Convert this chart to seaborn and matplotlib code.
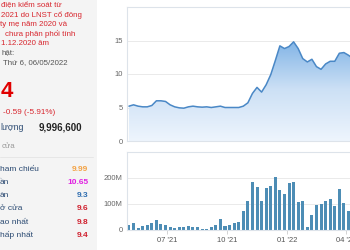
import numpy as np
import pandas as pd
import matplotlib
matplotlib.use("Agg")
import matplotlib.pyplot as plt
import matplotlib.dates as mdates
from matplotlib.colors import LinearSegmentedColormap
from matplotlib.patches import Rectangle
from matplotlib.ticker import FuncFormatter
import seaborn as sns

# ---------------- data ----------------
week_dates = pd.date_range("2021-05-04", periods=49, freq="7D")
volume_m = [18, 27, 9, 16, 18, 27, 39, 25, 18, 13,
            6, 10, 10, 16, 13, 13, 5, 5, 13, 18,
            42, 17, 21, 27, 32, 74, 113, 183, 166, 113,
            160, 170, 203, 155, 138, 181, 183, 108, 113, 10,
            57, 96, 101, 110, 121, 94, 156, 104, 75]
price_dates = pd.date_range("2021-05-04", periods=50, freq="7D")
price = [5.2, 5.4, 5.2, 5.1, 5.1, 5.3, 6.0, 6.0, 5.9, 5.4,
         5.1, 4.95, 4.9, 5.1, 5.2, 5.1, 5.05, 5.1, 5.0, 5.1,
         5.2, 5.0, 5.0, 5.0, 5.0, 5.2, 5.7, 7.1, 8.0, 7.3,
         8.4, 9.9, 12.0, 14.2, 13.8, 14.1, 14.8, 13.8, 12.3, 11.8,
         12.2, 11.1, 10.7, 11.5, 11.9, 11.9, 13.1, 13.2, 12.8, 12.3]
price_ticks = [0, 5, 10, 15]
volume_ticks = [0, 100, 200]
date_ticks = ["2021-07-01", "2021-10-01", "2022-01-01", "2022-04-01"]
date_labels = ["07 '21", "10 '21", "01 '22", "04 '22"]

note_lines = ["điện kiểm soát từ", "2021 do LNST cổ đông", "ty mẹ năm 2020 và",
              "chưa phân phối tính", "1.12.2020 âm"]
update_lines = ["hật:", "Thứ 6, 06/05/2022"]
big_price = "4"
change_text = "-0.59 (-5.91%)"
volume_label = "lượng"
volume_value = "9,996,600"
unit_text = "cửa"
stat_labels = ["ham chiếu", "ần", "àn", "ở cửa", "ao nhất", "hấp nhất"]
stat_values = ["9.99", "10.65", "9.3", "9.6", "9.8", "9.4"]
stat_colors = ["#f3a244", "#e020e0", "#2e6db0", "#d0202e", "#d0202e", "#d0202e"]

# ---------------- figure ----------------
sns.set_theme(style="white")
plt.rcParams["font.family"] = ["Liberation Sans", "DejaVu Sans"]

W, H = 350, 250
fig = plt.figure(figsize=(3.5, 2.5), dpi=100)
fig.patch.set_facecolor("white")

def fx(x):
    return x / W

def fy(y):
    return 1 - y / H

# left info panel
fig.add_artist(Rectangle((0, 0), fx(97), 1, transform=fig.transFigure,
                         facecolor="#f4f4f4", edgecolor="none", zorder=0))

red = "#d8262e"
note_x = [1, 1, 0, 5, 1]
for i, (t, x0) in enumerate(zip(note_lines, note_x)):
    fig.text(fx(x0), fy(6 + i * 9.35), t, color=red, fontsize=5.7, va="center", ha="left")
fig.text(fx(1), fy(52.7), update_lines[0], color="#555555", fontsize=5.7, va="center")
fig.text(fx(2.7), fy(62.3), update_lines[1], color="#555555", fontsize=5.7, va="center")
fig.text(fx(0.5), fy(91.5), big_price, color="#e00000", fontsize=16, fontweight="bold",
         va="center", ha="left")
fig.text(fx(2.7), fy(112), change_text, color=red, fontsize=5.9, va="center")
fig.text(fx(0), fy(127), volume_label, color="#2b4a72", fontsize=6.3, va="center")
fig.text(fx(82), fy(127), volume_value, color="#222222", fontsize=7, fontweight="bold",
         va="center", ha="right")
fig.text(fx(2), fy(146), unit_text, color="#999999", fontsize=5.7, va="center")
fig.add_artist(plt.Line2D([0, fx(93)], [fy(157), fy(157)], transform=fig.transFigure,
                          color="#e4e4e4", lw=0.6))
for i, (lab, val, col) in enumerate(zip(stat_labels, stat_values, stat_colors)):
    yy = 169.7 + i * 13.1
    fig.text(fx(0), fy(yy), lab, color="#2b4a72", fontsize=6.0, va="center", ha="left")
    fig.text(fx(88.5), fy(yy), val, color=col, fontsize=6.0, fontweight="bold",
             va="center", ha="right")

# chart axes (extend past the right edge like the cropped screenshot)
ax_p = fig.add_axes([fx(127), (H - 141) / H, 245 / W, 134 / H])
ax_v = fig.add_axes([fx(127), (H - 230) / H, 245 / W, 78 / H])

xmin = pd.Timestamp("2021-05-01")
xmax = pd.Timestamp("2022-05-11")
spine_c = "#dde3ea"
for ax in (ax_p, ax_v):
    ax.set_facecolor("none")
    ax.set_xlim(xmin, xmax)
    for s in ["top", "left", "bottom"]:
        ax.spines[s].set_visible(True)
        ax.spines[s].set_color(spine_c)
        ax.spines[s].set_linewidth(0.8)
    ax.spines["right"].set_visible(False)
    ax.tick_params(axis="y", length=0, pad=3, labelsize=5.5, labelcolor="#666666")
    ax.grid(axis="y", color="#e6e6e6", lw=0.6)
    ax.grid(axis="x", visible=False)
    ax.set_axisbelow(True)

# price area
df_p = pd.DataFrame({"date": price_dates, "price": price})
line_c = "#4a88c6"
poly = ax_p.fill_between(df_p["date"], df_p["price"], 0, facecolor="none", edgecolor="none")
cmap = LinearSegmentedColormap.from_list("g", ["#eef5fd", "#cce0f5", "#7cb1e5"])
grad = np.linspace(0, 1, 256).reshape(-1, 1)
x0n, x1n = mdates.date2num(xmin), mdates.date2num(xmax)
im = ax_p.imshow(grad, extent=[x0n, x1n, 0, 15.5], origin="lower", aspect="auto",
                 cmap=cmap, zorder=1)
im.set_clip_path(poly.get_paths()[0], transform=ax_p.transData)
sns.lineplot(data=df_p, x="date", y="price", ax=ax_p, color=line_c, lw=1.1, zorder=3)
ax_p.set_ylim(0, 20)
ax_p.set_yticks(price_ticks)
ax_p.set_yticklabels([str(v) for v in price_ticks])
ax_p.set_xlim(xmin, xmax)
ax_p.set_xticks([])
ax_p.set_xlabel("")
ax_p.set_ylabel("")

# volume bars
df_v = pd.DataFrame({"date": week_dates, "vol": volume_m})
ax_v.bar(df_v["date"], df_v["vol"], width=4.6, color="#4d8db5", linewidth=0, zorder=2)
ax_v.set_ylim(0, 300)
ax_v.set_yticks(volume_ticks)
ax_v.yaxis.set_major_formatter(FuncFormatter(lambda v, p: "0" if v == 0 else f"{int(v)}M"))
ax_v.set_xticks([pd.Timestamp(d) for d in date_ticks])
ax_v.set_xticklabels(date_labels)
ax_v.tick_params(axis="x", length=3, width=0.6, color="#cccccc", pad=2,
                 labelsize=5.5, labelcolor="#555555", bottom=True)
ax_v.set_xlim(xmin, xmax)
ax_v.set_xlabel("")
ax_v.set_ylabel("")

fig.savefig("out.png", dpi=100)
